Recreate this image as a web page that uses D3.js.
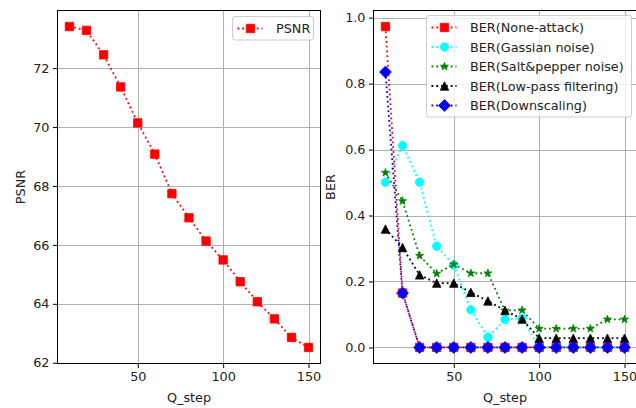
<!DOCTYPE html>
<html>
<head>
<meta charset="utf-8">
<script src="https://cdn.jsdelivr.net/npm/d3@7"></script>
<style>
  html, body { margin: 0; padding: 0; background: #fff; }
  svg { display: block; font-family: "DejaVu Sans", sans-serif; }
</style>
</head>
<body>
<svg id="chart" width="636" height="408"></svg>
<script>
// Quantisation step used for every measurement
const qSteps = [10, 20, 30, 40, 50, 60, 70, 80, 90, 100, 110, 120, 130, 140, 150];

// Image quality after embedding
const psnr = [73.41, 73.28, 72.45, 71.36, 70.14, 69.08, 67.74, 66.92, 66.13, 65.49, 64.75, 64.07, 63.49, 62.86, 62.52];

// Bit error rate of the extracted watermark under each attack
const berNone  = [0.973, 0.165, 0, 0, 0, 0, 0, 0, 0, 0, 0, 0, 0, 0, 0];
const berGauss = [0.501, 0.612, 0.501, 0.307, 0.250, 0.114, 0.031, 0.085, 0.088, 0, 0, 0, 0, 0, 0];
const berSalt  = [0.530, 0.444, 0.278, 0.224, 0.252, 0.225, 0.225, 0.112, 0.113, 0.057, 0.057, 0.057, 0.057, 0.085, 0.085];
const berLow   = [0.359, 0.303, 0.220, 0.195, 0.195, 0.167, 0.141, 0.112, 0.086, 0.028, 0.028, 0.028, 0.028, 0.028, 0.028];
const berDown  = [0.835, 0.165, 0, 0, 0, 0, 0, 0, 0, 0, 0, 0, 0, 0, 0];

// Tick labels
const qTicks = [50, 100, 150];
const psnrTicks = [62, 64, 66, 68, 70, 72];
const berTicks = [0.0, 0.2, 0.4, 0.6, 0.8, 1.0];

const berSeries = [
  { name: "BER(None-attack)",          values: berNone,  color: "#ff0000", marker: "square" },
  { name: "BER(Gassian noise)",        values: berGauss, color: "#00ffff", marker: "circle" },
  { name: "BER(Salt&pepper noise)",    values: berSalt,  color: "#008000", marker: "star" },
  { name: "BER(Low-pass filtering)",   values: berLow,   color: "#000000", marker: "triangle" },
  { name: "BER(Downscaling)",          values: berDown,  color: "#0000ff", marker: "diamond" }
];

const svg = d3.select("#chart");
const FONT = 12.8;
const MS = 8.4; // marker size in px

// Marker path generators centred on (0,0)
function markerPath(kind, s) {
  const h = s / 2;
  switch (kind) {
    case "square":
      return `M${-h},${-h}H${h}V${h}H${-h}Z`;
    case "circle":
      return `M${h},0A${h},${h} 0 1,1 ${-h},0A${h},${h} 0 1,1 ${h},0Z`;
    case "diamond": {
      const d = s * Math.SQRT2 / 2;
      return `M0,${-d}L${d},0L0,${d}L${-d},0Z`;
    }
    case "triangle":
      return `M0,${-h}L${h},${h}L${-h},${h}Z`;
    case "star": {
      const R = h, r = h * 0.381966;
      let p = "";
      for (let i = 0; i < 10; i++) {
        const rad = i % 2 === 0 ? R : r;
        const a = -Math.PI / 2 + i * Math.PI / 5;
        p += (i === 0 ? "M" : "L") + (rad * Math.cos(a)).toFixed(3) + "," + (rad * Math.sin(a)).toFixed(3);
      }
      return p + "Z";
    }
  }
}

function padded(vals) {
  const [lo, hi] = d3.extent(vals);
  const m = (hi - lo) * 0.05;
  return [lo - m, hi + m];
}

const plotTop = 10.5, plotBottom = 363.5;

function drawPanel(cfg) {
  const g = svg.append("g");
  const x = d3.scaleLinear().domain(padded(qSteps)).range([cfg.x0, cfg.x1]);
  const y = d3.scaleLinear().domain(cfg.yDomain).range([plotBottom, plotTop]);

  // grid
  g.append("g").selectAll("line.gx").data(qTicks).join("line")
    .attr("x1", d => Math.round(x(d)) + 0.5).attr("x2", d => Math.round(x(d)) + 0.5)
    .attr("y1", plotTop).attr("y2", plotBottom)
    .attr("stroke", "#b0b0b0").attr("stroke-width", 1);
  g.append("g").selectAll("line.gy").data(cfg.yTicks).join("line")
    .attr("x1", cfg.x0).attr("x2", cfg.x1)
    .attr("y1", d => Math.round(y(d)) + 0.5).attr("y2", d => Math.round(y(d)) + 0.5)
    .attr("stroke", "#b0b0b0").attr("stroke-width", 1);

  // axes
  const xAxis = d3.axisBottom(x).tickValues(qTicks).tickSize(4.5).tickPadding(3.5).tickFormat(d3.format("d"));
  const yAxis = d3.axisLeft(y).tickValues(cfg.yTicks).tickSize(4.5).tickPadding(3.5).tickFormat(cfg.fmt);
  const gx = g.append("g").attr("transform", `translate(0,${plotBottom})`).call(xAxis);
  const gy = g.append("g").attr("transform", `translate(${cfg.x0},0)`).call(yAxis);
  [gx, gy].forEach(a => {
    a.select(".domain").remove();
    a.selectAll("line").attr("stroke", "#000").attr("stroke-width", 1);
    a.selectAll("text").attr("font-size", FONT).attr("fill", "#222").attr("font-family", "DejaVu Sans");
  });

  // frame
  g.append("rect")
    .attr("x", cfg.x0).attr("y", plotTop)
    .attr("width", cfg.x1 - cfg.x0).attr("height", plotBottom - plotTop)
    .attr("fill", "none").attr("stroke", "#000").attr("stroke-width", 1);

  // labels
  g.append("text").attr("x", (cfg.x0 + cfg.x1) / 2).attr("y", 397)
    .attr("text-anchor", "middle").attr("dominant-baseline", "central")
    .attr("font-size", FONT).attr("fill", "#222").text("Q_step");
  g.append("text")
    .attr("transform", `translate(${cfg.ylabelX},${(plotTop + plotBottom) / 2}) rotate(-90)`)
    .attr("text-anchor", "middle").attr("dominant-baseline", "central")
    .attr("font-size", FONT).attr("fill", "#222").text(cfg.ylabel);

  // series
  const line = d3.line().x((d, i) => x(qSteps[i])).y(d => y(d));
  cfg.series.forEach(s => {
    g.append("path").datum(s.values)
      .attr("d", line)
      .attr("fill", "none").attr("stroke", s.color)
      .attr("stroke-width", 1.8).attr("stroke-dasharray", "1.8,3");
    g.append("g").selectAll("path").data(s.values).join("path")
      .attr("transform", (d, i) => `translate(${x(qSteps[i])},${y(d)})`)
      .attr("d", markerPath(s.marker, MS))
      .attr("fill", s.color).attr("stroke", s.color).attr("stroke-width", 0.8);
  });

  // legend
  const L = cfg.legend;
  g.append("rect")
    .attr("x", L.x).attr("y", L.y).attr("width", L.w)
    .attr("height", L.rowH * cfg.series.length + 4)
    .attr("rx", 2.5).attr("fill", "#fff").attr("fill-opacity", 0.8)
    .attr("stroke", "#cccccc").attr("stroke-width", 1);
  cfg.series.forEach((s, i) => {
    const cy = L.y + 12 + i * L.rowH;
    const lx = L.x + 5;
    g.append("line").attr("x1", lx).attr("x2", lx + 25).attr("y1", cy).attr("y2", cy)
      .attr("stroke", s.color).attr("stroke-width", 1.8).attr("stroke-dasharray", "1.8,3");
    g.append("path").attr("transform", `translate(${lx + 13},${cy})`)
      .attr("d", markerPath(s.marker, MS))
      .attr("fill", s.color).attr("stroke", s.color).attr("stroke-width", 0.8);
    g.append("text").attr("x", lx + 38.5).attr("y", cy)
      .attr("dominant-baseline", "central")
      .attr("font-size", FONT).attr("fill", "#222").text(s.name);
  });
}

// PSNR panel
drawPanel({
  x0: 57.5, x1: 320.5,
  yDomain: padded(psnr),
  yTicks: psnrTicks,
  fmt: d3.format("d"),
  ylabel: "PSNR", ylabelX: 20,
  series: [{ name: "PSNR", values: psnr, color: "#ff0000", marker: "square" }],
  legend: { x: 232.5, y: 16.5, w: 81, rowH: 19.5 }
});

// BER panel
drawPanel({
  x0: 373.5, x1: 636.5,
  yDomain: padded(berSeries.flatMap(s => s.values)),
  yTicks: berTicks,
  fmt: d3.format(".1f"),
  ylabel: "BER", ylabelX: 330,
  series: berSeries,
  legend: { x: 426.5, y: 15.5, w: 205, rowH: 19.5 }
});
</script>
</body>
</html>
